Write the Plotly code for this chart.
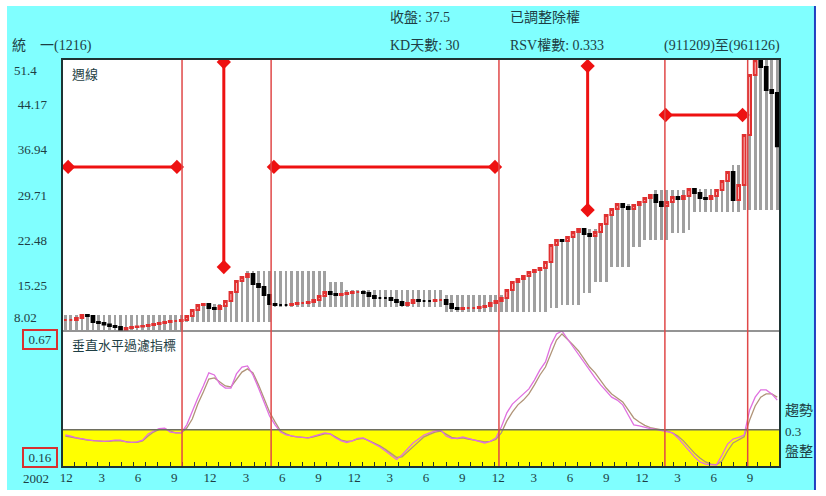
import plotly.graph_objects as go
import pandas as pd

# ---------------- data ----------------
week_dates = pd.date_range("2002-12-09", periods=130, freq="14D")

close = [9.77, 9.77, 10.09, 10.57, 10.41, 9.46, 9.30, 9.06, 8.82, 8.66,
         8.18, 8.50, 8.66, 8.74, 8.82, 8.98, 9.14, 9.30, 9.46, 9.61,
         9.61, 9.77, 10.41, 11.37, 12.17, 12.33, 11.69, 11.53, 12.01, 12.80,
         14.24, 15.99, 16.63, 17.11, 15.52, 15.04, 13.76, 12.33, 12.17, 12.17,
         12.17, 12.33, 12.49, 12.49, 12.65, 12.96, 13.60, 14.24, 13.92, 13.76,
         13.92, 14.08, 14.24, 14.24, 14.08, 13.60, 13.28, 13.28, 13.28, 12.96,
         12.65, 12.17, 12.49, 12.96, 12.80, 12.80, 12.80, 12.96, 12.96, 12.33,
         11.69, 11.53, 11.69, 11.69, 11.69, 11.85, 12.01, 12.49, 12.80, 13.28,
         14.56, 15.83, 16.31, 16.79, 17.43, 17.75, 18.07, 19.02, 21.74, 22.53,
         22.37, 23.01, 23.81, 24.29, 23.49, 23.17, 23.81, 25.09, 26.52, 27.48,
         28.28, 27.80, 27.48, 28.12, 28.59, 29.23, 29.71, 28.59, 27.96, 28.59,
         29.39, 29.07, 29.55, 30.67, 30.03, 29.23, 29.07, 29.55, 30.51, 31.94,
         33.38, 28.91, 31.31, 39.28, 48.85, 51.20, 50.13, 46.46, 45.98, 37.50]

box_high = [10.57] * 22 + [
    10.57, 11.37, 12.17, 12.33, 12.33, 12.33, 12.33, 12.80, 14.24, 15.99,
    16.63, 17.55, 17.55, 17.55, 17.55, 17.55] + [17.55] * 10 + [15.83] * 3 + [14.56] * 18 + [13.76] * 11 + [
    14.56, 15.83, 16.31, 16.79, 17.43, 17.75, 18.07, 19.02, 21.74, 22.53,
    22.53, 23.01, 23.81, 24.29, 24.29, 24.29, 24.29, 25.09, 26.52, 27.48,
    28.28, 28.28, 28.28, 28.28, 28.59, 29.23, 29.71, 30.50, 30.50, 30.50,
    30.50, 30.50, 30.50, 30.67, 30.67, 30.67, 30.67, 30.67, 30.67, 31.94,
    33.38, 34.50, 34.50, 39.28, 48.85, 51.40, 51.40, 51.40, 51.40, 51.40]

box_low = [8.18] * 22 + [9.46] * 16 + [11.85] * 31 + [11.05] * 19 + [
    11.69, 11.69, 12.17, 12.17, 12.17, 12.17, 14.08, 14.08, 15.83, 15.83,
    15.83, 18.23, 18.23, 18.23, 18.23, 21.42, 21.42, 22.53, 22.53, 22.53,
    22.53, 22.53, 23.65, 23.65, 23.65, 24.13, 27.00, 27.00, 27.00, 27.00,
    27.00, 27.00, 27.00, 27.00, 27.00, 27.32, 27.32, 27.32, 27.32, 27.32,
    27.32, 27.32]

filter_fast = [0.280, 0.276, 0.269, 0.265, 0.261, 0.259, 0.258, 0.256, 0.258, 0.261,
               0.261, 0.254, 0.252, 0.254, 0.261, 0.284, 0.295, 0.304, 0.306, 0.291,
               0.288, 0.288, 0.318, 0.370, 0.419, 0.464, 0.513, 0.505, 0.471, 0.456,
               0.456, 0.509, 0.535, 0.539, 0.505, 0.456, 0.400, 0.351, 0.318, 0.291,
               0.280, 0.276, 0.273, 0.271, 0.269, 0.276, 0.282, 0.288, 0.284, 0.269,
               0.258, 0.252, 0.258, 0.267, 0.269, 0.258, 0.246, 0.235, 0.220, 0.205,
               0.188, 0.205, 0.228, 0.250, 0.265, 0.280, 0.288, 0.295, 0.299, 0.276,
               0.267, 0.267, 0.273, 0.267, 0.261, 0.256, 0.250, 0.256, 0.269, 0.310,
               0.363, 0.396, 0.415, 0.434, 0.453, 0.486, 0.524, 0.554, 0.618, 0.659,
               0.670, 0.640, 0.610, 0.584, 0.550, 0.520, 0.494, 0.468, 0.445, 0.422,
               0.411, 0.393, 0.355, 0.318, 0.314, 0.308, 0.304, 0.301, 0.297, 0.293,
               0.288, 0.269, 0.246, 0.220, 0.198, 0.179, 0.171, 0.168, 0.168, 0.205,
               0.246, 0.265, 0.271, 0.280, 0.374, 0.422, 0.449, 0.449, 0.434, 0.411]

filter_slow = [0.276, 0.273, 0.269, 0.265, 0.261, 0.259, 0.258, 0.256, 0.256, 0.259,
               0.258, 0.254, 0.252, 0.252, 0.258, 0.276, 0.291, 0.301, 0.304, 0.295,
               0.288, 0.288, 0.306, 0.340, 0.396, 0.441, 0.490, 0.494, 0.479, 0.464,
               0.460, 0.490, 0.516, 0.528, 0.513, 0.468, 0.415, 0.366, 0.329, 0.295,
               0.284, 0.276, 0.273, 0.271, 0.269, 0.273, 0.278, 0.284, 0.284, 0.273,
               0.261, 0.256, 0.258, 0.265, 0.267, 0.259, 0.250, 0.239, 0.226, 0.212,
               0.196, 0.198, 0.216, 0.235, 0.254, 0.273, 0.282, 0.291, 0.295, 0.284,
               0.271, 0.267, 0.269, 0.265, 0.261, 0.258, 0.254, 0.256, 0.263, 0.288,
               0.333, 0.366, 0.393, 0.411, 0.434, 0.468, 0.505, 0.535, 0.588, 0.636,
               0.659, 0.640, 0.618, 0.595, 0.565, 0.535, 0.513, 0.486, 0.456, 0.434,
               0.419, 0.404, 0.374, 0.344, 0.329, 0.316, 0.308, 0.304, 0.301, 0.295,
               0.288, 0.276, 0.258, 0.235, 0.212, 0.194, 0.179, 0.171, 0.168, 0.183,
               0.220, 0.250, 0.263, 0.273, 0.336, 0.389, 0.422, 0.434, 0.434, 0.422]

signal_dates = ["2003-10-01", "2004-05-14", "2005-12-13", "2007-02-07", "2007-09-05"]

arrow_x0 = ["2002-12-16", "2004-05-21", "2004-01-15", "2006-07-26", "2007-02-09"]
arrow_x1 = ["2003-09-18", "2005-12-03", "2004-01-15", "2006-07-26", "2007-08-23"]
arrow_y0 = [34.18, 34.18, 50.92, 50.28, 42.47]
arrow_y1 = [34.18, 34.18, 18.23, 27.32, 42.47]

price_ticks = [15.25, 22.48, 29.71, 36.94, 44.17]
price_min, price_max = 8.02, 51.4
ind_min, ind_max, ind_split = 0.16, 0.67, 0.3

month_ticks = pd.date_range("2002-12-01", "2007-11-01", freq="MS")
month_text = [str(d.month) if d.month in (3, 6, 9, 12) else "" for d in month_ticks]

# ---------------- figure ----------------
opens = [close[0]] + close[:-1]
highs = [max(a, b) for a, b in zip(opens, close)]
lows = [min(a, b) for a, b in zip(opens, close)]

SERIF = "Liberation Serif, Noto Sans CJK TC, serif"
TXT = "#1e3e44"

fig = go.Figure()

fig.add_trace(go.Bar(
    x=week_dates, y=[h - l for h, l in zip(box_high, box_low)], base=box_low,
    width=7 * 86400000, marker=dict(color="#a0a0a0", line=dict(width=0)),
    xaxis="x", yaxis="y", showlegend=False, hoverinfo="skip"))

fig.add_trace(go.Candlestick(
    x=week_dates, open=opens, high=highs, low=lows, close=close,
    increasing=dict(line=dict(color="#e03030", width=2), fillcolor="#fff0f0"),
    decreasing=dict(line=dict(color="#000000", width=2), fillcolor="#000000"),
    xaxis="x", yaxis="y", showlegend=False))

fig.add_trace(go.Scatter(x=week_dates, y=filter_slow, mode="lines",
                         line=dict(color="#b09478", width=1.3),
                         xaxis="x", yaxis="y2", showlegend=False))
fig.add_trace(go.Scatter(x=week_dates, y=filter_fast, mode="lines",
                         line=dict(color="#e070e0", width=1.3),
                         xaxis="x", yaxis="y2", showlegend=False))

for x0, x1, y0, y1 in zip(arrow_x0, arrow_x1, arrow_y0, arrow_y1):
    fig.add_trace(go.Scatter(x=[x0, x1], y=[y0, y1], mode="lines+markers",
                             line=dict(color="#ee1111", width=3),
                             marker=dict(symbol="diamond", size=11, color="#ee1111"),
                             xaxis="x", yaxis="y", showlegend=False, hoverinfo="skip"))

shapes = []
# cyan panel background, white plot area and blue right edge
shapes.append(dict(type="rect", xref="paper", yref="paper", x0=-0.0766, x1=1.0474,
                   y0=-0.0564, y1=1.1299, fillcolor="#80ffff", line=dict(width=0), layer="below"))
shapes.append(dict(type="rect", xref="paper", yref="paper", x0=0, x1=1,
                   y0=0, y1=1, fillcolor="#ffffff", line=dict(width=0), layer="below"))
shapes.append(dict(type="line", xref="paper", yref="paper", x0=1.0487, x1=1.0487,
                   y0=-0.0564, y1=1.1299, line=dict(color="#2040c0", width=2)))
# yellow consolidation zone
shapes.append(dict(type="rect", xref="paper", yref="y2", x0=0, x1=1, y0=ind_min, y1=ind_split,
                   fillcolor="#ffff00", line=dict(width=0), layer="below"))
shapes.append(dict(type="line", xref="paper", yref="y2", x0=0, x1=1, y0=ind_split, y1=ind_split,
                   line=dict(color="#6e6e60", width=1.5)))
# panel separator
shapes.append(dict(type="line", xref="paper", yref="paper", x0=0, x1=1, y0=1/3, y1=1/3,
                   line=dict(color="#707070", width=1.5)))
# signal lines
for d in signal_dates:
    shapes.append(dict(type="line", xref="x", yref="paper", x0=d, x1=d, y0=0, y1=1,
                       line=dict(color="#e04848", width=1.5)))
# frame
shapes.append(dict(type="rect", xref="paper", yref="paper", x0=0, x1=1, y0=0, y1=1,
                   line=dict(color="#1e3434", width=2)))

def ann(text, x, y, xanchor="left", size=14, **kw):
    return dict(text=text, x=x, y=y, xref="paper", yref="paper", xanchor=xanchor,
                yanchor="middle", showarrow=False, font=dict(family=SERIF, size=size, color=TXT), **kw)

annotations = [
    ann("統\u3000一(1216)", -0.0724, 1.0319),
    ann("收盤: 37.5", 0.4540, 1.1005),
    ann("KD天數: 30", 0.4540, 1.0319),
    ann("已調整除權", 0.6212, 1.1005),
    ann("RSV權數: 0.333", 0.6212, 1.0319),
    ann("(911209)至(961126)", 0.8357, 1.0319),
    ann("週線", 0.0111, 0.9608, size=13),
    ann("垂直水平過濾指標", 0.0111, 0.2990, size=13),
    ann("趨勢", 1.0042, 0.1397),
    ann("0.3", 1.0042, 0.0858, size=13),
    ann("盤整", 1.0042, 0.0368),
    ann(str(price_max), -0.0696, 0.9730, size=13),
    ann(str(price_min), -0.0696, 0.3676, size=13),
    ann(str(ind_max), -0.0306, 0.3113, xanchor="center", size=13,
        bordercolor="#d83030", borderwidth=2, borderpad=1, width=30),
    ann(str(ind_min), -0.0306, 0.0245, xanchor="center", size=13,
        bordercolor="#d83030", borderwidth=2, borderpad=1, width=30),
    ann("2002", -0.0362, -0.0270, xanchor="center", size=13),
]

fig.update_layout(
    width=826, height=496,
    margin=dict(l=62, r=46, t=59, b=29),
    paper_bgcolor="#ffffff", plot_bgcolor="#ffffff",
    bargap=0, showlegend=False,
    shapes=shapes, annotations=annotations,
    xaxis=dict(type="date", range=["2002-11-30 12:00", "2007-11-26"], anchor="y2",
               tickvals=list(month_ticks), ticktext=month_text,
               ticks="inside", ticklen=5, tickwidth=1, tickcolor="#1e3434",
               ticklabelshift=4, ticklabelstandoff=1,
               tickfont=dict(family=SERIF, size=13, color=TXT),
               showgrid=False, zeroline=False, showline=False,
               rangeslider=dict(visible=False)),
    yaxis=dict(domain=[1/3, 1], range=[price_min, price_max], anchor="x",
               tickvals=price_ticks, ticktext=[f"{v:.2f}" for v in price_ticks],
               ticks="", ticklabelstandoff=14,
               tickfont=dict(family=SERIF, size=13, color=TXT),
               showgrid=False, zeroline=False, showline=False),
    yaxis2=dict(domain=[0, 1/3], range=[ind_min, ind_max], anchor="x",
                showticklabels=False, ticks="",
                showgrid=False, zeroline=False, showline=False),
)

fig.write_html("out.html", config={"displayModeBar": False},
               post_script="document.body.style.margin='0px';")
